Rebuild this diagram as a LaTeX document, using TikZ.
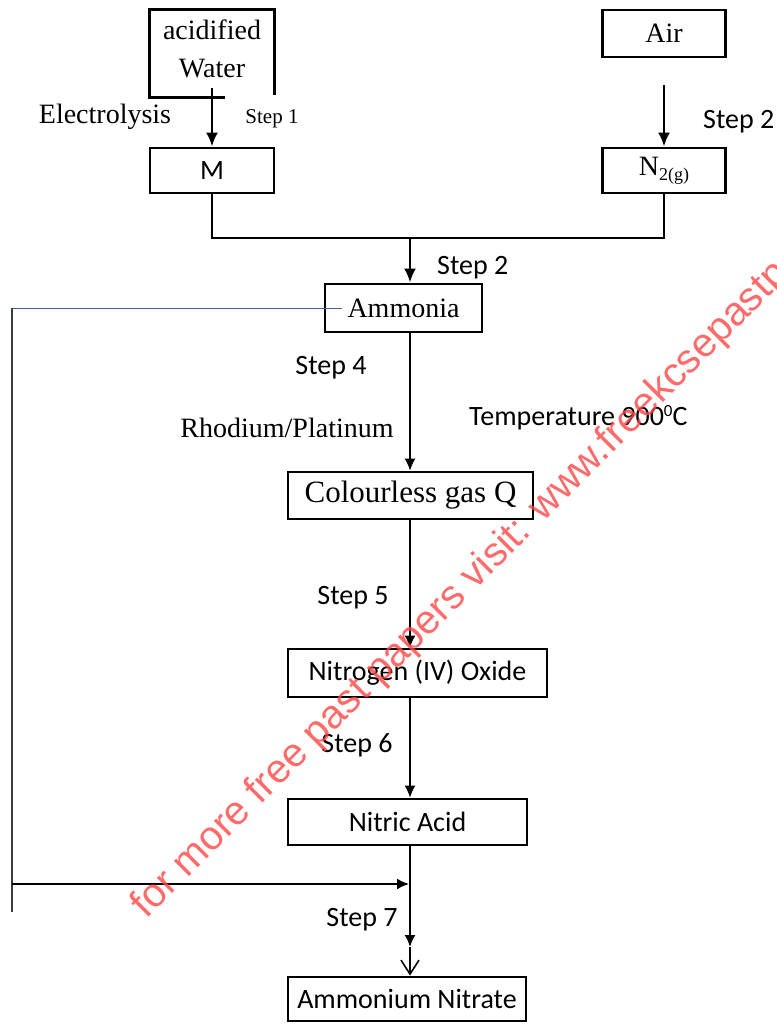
\documentclass[tikz,border=0pt]{standalone}
\usepackage{fontspec}
\setmainfont{Liberation Serif}
\newfontfamily\calfont{Carlito}
\newfontfamily\wmfont{Liberation Sans}
\usetikzlibrary{arrows.meta}
\definecolor{wmred}{RGB}{255,70,70}
\definecolor{fbblue}{RGB}{70,100,160}
\definecolor{fbgray}{RGB}{60,60,60}
\begin{document}
\begin{tikzpicture}[x=1pt,y=-1pt,
  box/.style={draw, line width=2.8pt, inner sep=0pt},
  serif/.style={font=\fontsize{28}{32}\selectfont},
  smallserif/.style={font=\fontsize{21}{24}\selectfont},
  sans/.style={font=\calfont\fontsize{28}{32}\selectfont},
  thickarrow/.style={line width=2.6pt, -{Latex[length=14pt,width=12pt]}},
  thinarrow/.style={line width=1.6pt, -{Latex[length=12pt,width=11pt]}},
  thickline/.style={line width=2.4pt},
  thinline/.style={line width=1.6pt},
  wm/.style={font=\wmfont\fontsize{40.5}{44}\selectfont, text=wmred, opacity=0.8, inner sep=0pt}
]
\fill[white] (0,0) rectangle (776,1024);
\useasboundingbox (0,0) rectangle (776,1024);

% top left
\node[minimum width=124pt, minimum height=87pt, inner sep=0pt] (aw) at (212,53.5) {};
\node[serif, align=center, inner sep=0pt] (awt) at (212,49) {acidified\\[6pt]Water};
\node[box, sans, minimum width=124pt, minimum height=45pt] (M) at (212,170.5) {M};
\node[serif] (elec) at (105,117) {Electrolysis};
\node[smallserif] (st1) at (272,119) {Step 1};

% top right
\node[box, serif, minimum width=123pt, minimum height=47pt] (air) at (664,33.5) {Air};
\node[box, serif, minimum width=123pt, minimum height=45pt] (n2) at (664,170.5) {N\raisebox{-5pt}{\fontsize{18}{18}\selectfont 2(g)}};
\node[sans, anchor=west, inner sep=0pt] (st2r) at (703,122) {Step 2};

% main column
\node[box, serif, minimum width=157pt, minimum height=48pt] (am) at (403.5,308) {Ammonia};
\node[box, minimum width=245pt, minimum height=47pt, font=\fontsize{31}{34}\selectfont] (cq) at (410.5,495.5) {Colourless gas Q};
\node[box, sans, minimum width=259pt, minimum height=48pt] (no) at (417.5,673) {Nitrogen (IV) Oxide};
\node[box, sans, minimum width=239pt, minimum height=46pt] (na) at (407.5,822) {Nitric Acid};
\node[box, sans, minimum width=238pt, minimum height=44pt] (an) at (407,999) {Ammonium Nitrate};

\node[sans, anchor=west, inner sep=0pt] (st2m) at (437,268) {Step 2};
\node[sans] (st4) at (331,368) {Step 4};
\node[serif] (rh) at (287,428) {Rhodium/Platinum};
\node[sans, anchor=west, inner sep=0pt] (temp) at (469,418) {Temperature 900\raisebox{9pt}{\fontsize{17}{17}\selectfont 0}C};
\node[sans] (st5) at (353,598) {Step 5};
\node[sans] (st6) at (357,745) {Step 6};
\node[sans] (st7) at (362,920) {Step 7};

% coordinates
\coordinate (s1) at (212,88);
\coordinate (s2) at (664,85);
\coordinate (j) at (410,238);
\coordinate (mid7) at (410,947);
\coordinate (fbl) at (12,308);
\coordinate (fbb) at (12,912);
\coordinate (fa) at (12,884);
\coordinate (fb) at (409,884);

% open box of acidified water
\draw[line width=2.8pt] ([xshift=75pt]aw.south west) -- (aw.south west) -- (aw.north west) -- (aw.north east) -- ([yshift=2pt]aw.south east);

% connectors
\draw[thickarrow] (s1) -- (s1 |- M.north);
\draw[thickarrow] (s2) -- (s2 |- n2.north);
\draw[thickline] (M.south) -- (M.south |- j) -- (j -| n2.south) -- (n2.south);
\draw[thickarrow] (j) -- (j |- am.north);
\draw[thinarrow] (j |- am.south) -- (j |- cq.north);
\draw[thinarrow] (j |- cq.south) -- (j |- no.north);
\draw[thinarrow] (j |- no.south) -- (j |- na.north);
\draw[thinarrow] (j |- na.south) -- (mid7);
\draw[thinline, -{Straight Barb[length=14pt,width=18pt]}] (mid7) -- (j |- an.north);

% feedback loop
\draw[line width=1pt, fbblue] ([xshift=18pt]am.west) -- (fbl);
\draw[line width=1.6pt, fbgray] (fbl) -- (fbb);
\draw[thinarrow] (fa) -- (fb);

% watermark
\begin{scope}
\clip (0,0) rectangle (776,1024);
\node[wm, rotate=45, anchor=base west] (wmark) at (146,920) {for more free past papers visit: www.freekcsepastpapers.com};
\end{scope}
\end{tikzpicture}
\end{document}
